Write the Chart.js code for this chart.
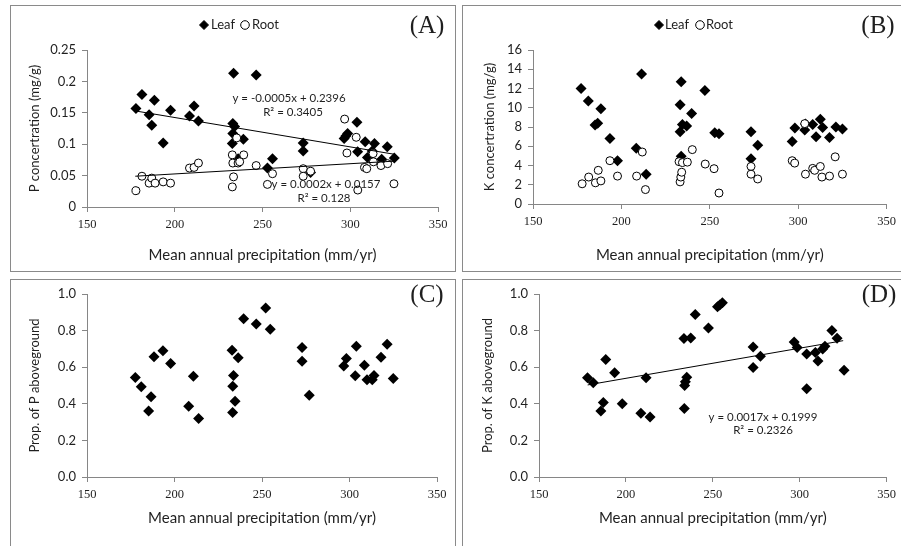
<!DOCTYPE html>
<html>
<head>
<meta charset="utf-8">
<script src="https://cdn.jsdelivr.net/npm/chart.js@4/dist/chart.umd.min.js"></script>
<style>
  html, body { margin: 0; padding: 0; background: #fff; }
  body { width: 901px; height: 546px; position: relative; overflow: hidden; }
  .frame { position: absolute; border: 1px solid #8a8a8a; box-sizing: border-box; }
  canvas { position: absolute; }
</style>
</head>
<body>
<div class="frame" style="left:10px;top:5px;width:446px;height:267px"></div>
<div class="frame" style="left:462px;top:5px;width:445px;height:267px"></div>
<div class="frame" style="left:10px;top:279px;width:446px;height:280px"></div>
<div class="frame" style="left:462px;top:279px;width:445px;height:280px"></div>
<canvas id="cA" width="445" height="266" style="left:10px;top:5px"></canvas>
<canvas id="cB" width="439" height="266" style="left:462px;top:5px"></canvas>
<canvas id="cC" width="445" height="267" style="left:10px;top:279px"></canvas>
<canvas id="cD" width="439" height="267" style="left:462px;top:279px"></canvas>
<script>
// ================= DATA =================
const xAxisTitle = 'Mean annual precipitation (mm/yr)';

// Panel A - P concentration (mg/g)
const aLeafX = [177.9,181.3,185.4,186.9,188.4,193.4,197.6,208.4,211.0,213.5,233.5,233.1,234.1,233.1,232.8,236.1,239.1,246.4,252.8,255.7,273.2,273.2,277.4,296.5,297.5,298.5,303.8,304.2,308.5,309.8,312.5,313.8,317.9,321.1,325.1];
const aLeafP  = [0.157,0.179,0.147,0.130,0.170,0.102,0.154,0.145,0.161,0.137,0.213,0.133,0.128,0.117,0.101,0.077,0.108,0.210,0.062,0.077,0.102,0.089,0.055,0.109,0.113,0.117,0.135,0.088,0.104,0.079,0.089,0.101,0.076,0.096,0.078];
const aRootX = [177.9,181.3,185.4,186.9,188.8,193.4,197.6,208.4,211.0,213.5,232.8,233.1,233.5,232.8,235.3,236.1,237.0,239.3,246.4,252.8,255.7,273.2,273.2,277.4,296.8,298.1,303.4,304.3,308.1,309.4,313.2,313.0,317.5,321.3,324.9];
const aRootP  = [0.026,0.049,0.038,0.046,0.038,0.040,0.038,0.062,0.063,0.070,0.083,0.070,0.048,0.032,0.110,0.070,0.072,0.083,0.066,0.036,0.053,0.061,0.049,0.057,0.140,0.086,0.111,0.027,0.063,0.061,0.072,0.085,0.066,0.069,0.037];
const aLeafTrendX = [177.5, 325];
const aLeafTrendY = [0.153, 0.084];
const aRootTrendX = [177.5, 325];
const aRootTrendY = [0.049, 0.073];

// Panel B - K concentration (mg/g)
const bLeafX = [177.2,181.3,188.4,185.1,186.6,193.5,197.8,208.4,211.4,214.0,233.8,233.2,233.2,234.5,236.9,239.7,233.8,247.2,252.8,255.2,273.3,277.1,273.3,296.6,298.1,303.7,304.1,308.2,310.1,312.5,313.8,317.7,321.3,325.0];
const bLeafK  = [12.0,10.7,9.9,8.2,8.4,6.8,4.5,5.8,13.5,3.1,12.7,10.3,7.5,8.25,8.1,9.4,4.95,11.8,7.4,7.3,7.5,6.1,4.7,6.5,7.9,7.7,8.3,8.25,7.0,8.8,7.95,6.9,8.0,7.8];
const bRootX = [177.8,181.5,185.3,186.9,188.4,193.5,197.8,208.6,211.8,213.6,232.6,233.2,233.6,234.1,234.5,237.3,240.1,247.4,252.4,255.2,273.3,273.3,277.1,296.6,298.0,304.1,303.7,308.2,309.3,312.5,313.4,317.7,320.9,325.0];
const bRootK  = [2.1,2.8,2.2,3.5,2.4,4.5,2.9,2.9,5.4,1.5,4.4,2.3,2.8,3.3,4.3,4.35,5.65,4.15,3.67,1.14,3.9,3.1,2.6,4.5,4.25,3.1,8.35,3.7,3.5,3.9,2.8,2.9,4.9,3.1];

// Panel C - proportion of P aboveground
const cX = [177.6,181.0,185.2,186.6,188.3,193.4,197.8,208.1,210.8,213.8,232.9,233.7,233.3,234.6,233.2,236.4,239.5,246.7,252.1,254.7,272.9,272.9,277.0,296.7,298.2,303.9,303.3,308.5,310.0,313.0,314.0,318.0,321.5,325.0];
const cPropP = [0.544,0.493,0.361,0.438,0.657,0.690,0.620,0.387,0.551,0.319,0.693,0.555,0.496,0.414,0.352,0.651,0.865,0.836,0.923,0.807,0.708,0.633,0.447,0.606,0.648,0.715,0.553,0.610,0.532,0.532,0.555,0.655,0.725,0.538];

// Panel D - proportion of K aboveground
const dX = [177.9,181.2,185.6,187.0,188.4,193.5,197.9,208.6,211.6,213.9,233.4,233.6,233.8,234.2,235.0,237.3,239.9,247.5,252.7,254.0,255.5,273.2,273.2,277.4,296.8,298.5,304.0,304.0,309.0,310.5,313.2,314.5,318.5,321.5,325.5];
const dPropK = [0.542,0.515,0.360,0.407,0.642,0.570,0.400,0.348,0.543,0.328,0.757,0.375,0.500,0.520,0.545,0.760,0.888,0.814,0.930,0.940,0.952,0.710,0.598,0.660,0.738,0.708,0.672,0.482,0.680,0.634,0.700,0.715,0.800,0.758,0.583];
const dTrendX = [178, 325];
const dTrendY = [0.503, 0.745];

// ================= RENDERING =================
const pts = (xs, ys) => xs.map((x, i) => ({x: x, y: ys[i]}));
const TXT = '#1f1f1f';
const AX = '#868686';
const SANS = 'Lato, "Open Sans", sans-serif';
const SERIF = '"Liberation Serif", "DejaVu Serif", serif';

const leafStyle = {pointStyle: 'rectRot', pointRadius: 5.5, backgroundColor: '#000', borderColor: '#000', borderWidth: 0, showLine: false, order: 2};
const rootStyle = {pointStyle: 'circle', pointRadius: 4, backgroundColor: '#fff', borderColor: '#000', borderWidth: 1, showLine: false, order: 1};
const trendStyle = {showLine: true, pointRadius: 0, borderColor: '#000', borderWidth: 1, fill: false, order: 0};

const overlay = {
  id: 'overlay',
  afterDraw(chart, args, o) {
    const ctx = chart.ctx;
    ctx.save();
    (o.marks || []).forEach(m => {
      ctx.fillStyle = m.fill; ctx.strokeStyle = '#000'; ctx.lineWidth = 1;
      Chart.helpers.drawPoint(ctx, {pointStyle: m.style, radius: m.r, borderWidth: 1}, m.x, m.y);
    });
    (o.texts || []).forEach(t => {
      ctx.font = t.font; ctx.fillStyle = TXT;
      ctx.textAlign = t.align || 'center'; ctx.textBaseline = 'middle';
      ctx.fillText(t.text, t.x, t.y);
    });
    ctx.restore();
  }
};

function makeChart(id, p) {
  return new Chart(document.getElementById(id), {
    type: 'scatter',
    data: {datasets: p.datasets},
    options: {
      responsive: false, animation: false, devicePixelRatio: 1,
      layout: {padding: {left: 0, top: p.top, right: p.right, bottom: 0}},
      plugins: {legend: {display: false}, tooltip: {enabled: false}, overlay: {marks: p.marks, texts: p.texts}},
      scales: {
        x: {
          type: 'linear', min: 150, max: 350,
          ticks: {stepSize: 50, color: TXT, font: {family: SERIF, size: 12.5}, padding: 5, maxRotation: 0},
          grid: {display: true, drawOnChartArea: false, drawTicks: true, tickLength: 5, color: AX},
          border: {display: true, color: AX},
          title: {display: true, text: xAxisTitle, color: TXT, font: {family: SANS, size: 15}, padding: {top: 0, bottom: p.xTitlePad}},
          afterFit: s => { s.height = p.xH; }
        },
        y: {
          type: 'linear', min: p.ymin, max: p.ymax,
          ticks: {stepSize: p.ystep, color: TXT, font: {family: SANS, size: 13}, padding: 6, callback: p.yfmt},
          grid: {display: true, drawOnChartArea: false, drawTicks: true, tickLength: 5, color: AX},
          border: {display: true, color: AX},
          title: {display: true, text: p.ytitle, color: TXT, font: {family: SANS, size: 13}, padding: {top: p.yTitlePad, bottom: 0}},
          afterFit: s => { s.width = p.yW; }
        }
      }
    },
    plugins: [overlay]
  });
}

const legendTexts = (lx, rx) => [
  {text: 'Leaf', x: lx, y: 20, align: 'left', font: '13px ' + SANS},
  {text: 'Root', x: rx, y: 20, align: 'left', font: '13px ' + SANS}
];
const legendMarks = (dx, cx) => [
  {style: 'rectRot', r: 4.5, fill: '#000', x: dx, y: 20},
  {style: 'circle', r: 4.3, fill: '#fff', x: cx, y: 20}
];

makeChart('cA', {
  top: 45, right: 17, xH: 64, yW: 77, xTitlePad: 7, yTitlePad: 17,
  ymin: 0, ymax: 0.25, ystep: 0.05, yfmt: v => String(+v.toFixed(2)),
  ytitle: 'P concertration (mg/g)',
  datasets: [
    Object.assign({label: 'Leaf', data: pts(aLeafX, aLeafP)}, leafStyle),
    Object.assign({label: 'Root', data: pts(aRootX, aRootP)}, rootStyle),
    Object.assign({label: 'Leaf trend', data: pts(aLeafTrendX, aLeafTrendY)}, trendStyle),
    Object.assign({label: 'Root trend', data: pts(aRootTrendX, aRootTrendY)}, trendStyle)
  ],
  marks: legendMarks(194, 235),
  texts: legendTexts(201, 242).concat([
    {text: '(A)', x: 417, y: 21, font: '25px ' + SERIF},
    {text: 'y = -0.0005x + 0.2396', x: 279, y: 93, font: '11.5px ' + SANS},
    {text: 'R² = 0.3405', x: 283, y: 107, font: '11.5px ' + SANS},
    {text: 'y = 0.0002x + 0.0157', x: 316, y: 179, font: '11.5px ' + SANS},
    {text: 'R² = 0.128', x: 314, y: 193, font: '11.5px ' + SANS}
  ])
});

makeChart('cB', {
  top: 45, right: 10, xH: 67, yW: 71, xTitlePad: 7, yTitlePad: 20,
  ymin: 0, ymax: 16, ystep: 2, yfmt: v => String(v),
  ytitle: 'K concertration (mg/g)',
  datasets: [
    Object.assign({label: 'Leaf', data: pts(bLeafX, bLeafK)}, leafStyle),
    Object.assign({label: 'Root', data: pts(bRootX, bRootK)}, rootStyle)
  ],
  marks: legendMarks(197, 238),
  texts: legendTexts(203, 244).concat([
    {text: '(B)', x: 416, y: 21, font: '25px ' + SERIF}
  ])
});

makeChart('cC', {
  top: 15, right: 18, xH: 69, yW: 77, xTitlePad: 19, yTitlePad: 17,
  ymin: 0, ymax: 1, ystep: 0.2, yfmt: v => v.toFixed(1),
  ytitle: 'Prop. of P aboveground',
  datasets: [
    Object.assign({label: 'Prop P', data: pts(cX, cPropP)}, leafStyle)
  ],
  marks: [],
  texts: [{text: '(C)', x: 417, y: 16, font: '25px ' + SERIF}]
});

makeChart('cD', {
  top: 15, right: 11, xH: 69, yW: 77, xTitlePad: 19, yTitlePad: 18,
  ymin: 0, ymax: 1, ystep: 0.2, yfmt: v => v.toFixed(1),
  ytitle: 'Prop. of K aboveground',
  datasets: [
    Object.assign({label: 'Prop K', data: pts(dX, dPropK)}, leafStyle),
    Object.assign({label: 'Trend', data: pts(dTrendX, dTrendY)}, trendStyle)
  ],
  marks: [],
  texts: [
    {text: '(D)', x: 417, y: 16, font: '25px ' + SERIF},
    {text: 'y = 0.0017x + 0.1999', x: 301, y: 138, font: '11.5px ' + SANS},
    {text: 'R² = 0.2326', x: 301, y: 151, font: '11.5px ' + SANS}
  ]
});
</script>
</body>
</html>
